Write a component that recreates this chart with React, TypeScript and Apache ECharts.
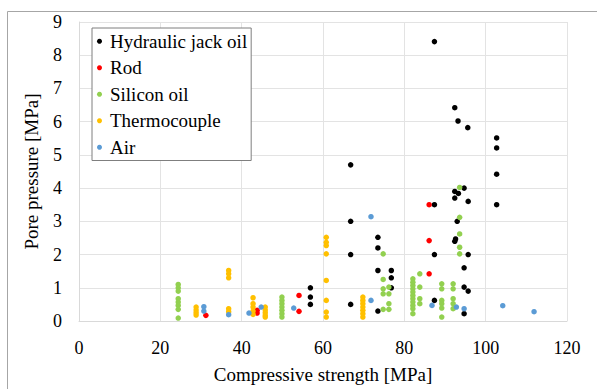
import React, { useEffect, useRef } from "react";
import * as echarts from "echarts";

const xTicks = [0, 20, 40, 60, 80, 100, 120];
const yTicks = [0, 1, 2, 3, 4, 5, 6, 7, 8, 9];

const seriesNames = ["Hydraulic jack oil", "Rod", "Silicon oil", "Thermocouple", "Air"];
const seriesColors = ["#000000", "#FF0000", "#92D050", "#FFC000", "#5B9BD5"];

const hydraulicJackOil: [number, number][] = [
  [56.9, 1.0], [56.9, 0.72], [56.9, 0.5],
  [66.8, 4.7], [66.8, 3.0], [66.8, 2.0], [66.8, 0.5],
  [73.5, 2.52], [73.5, 2.2], [73.5, 1.52], [73.5, 0.3],
  [76.8, 1.52], [76.8, 1.3], [76.8, 1.0],
  [87.4, 8.41], [87.4, 3.5], [87.4, 2.0], [87.4, 0.62],
  [92.4, 6.42], [93.2, 6.02], [95.6, 5.82],
  [102.7, 5.51], [102.7, 5.21], [102.7, 4.42], [102.7, 3.5],
  [94.7, 4.0], [92.4, 3.9], [93.3, 3.84], [92.4, 3.7], [95.7, 3.6],
  [93.0, 3.0], [92.6, 2.47], [92.4, 2.4], [95.7, 2.0], [94.7, 1.6],
  [94.7, 1.02], [95.7, 0.9], [94.7, 0.22],
];

const rod: [number, number][] = [
  [31.2, 0.17], [43.8, 0.32], [43.8, 0.24], [54.1, 0.77], [54.1, 0.29],
  [86.1, 3.5], [86.1, 2.42], [86.1, 1.42],
];

const siliconOil: [number, number][] = [
  [24.4, 1.1], [24.4, 1.0], [24.4, 0.9], [24.4, 0.67], [24.4, 0.57], [24.4, 0.47], [24.4, 0.35], [24.4, 0.09],
  [49.9, 0.72], [49.9, 0.62], [49.9, 0.52], [49.9, 0.42], [49.9, 0.32], [49.9, 0.22], [49.9, 0.12],
  [74.8, 2.02], [74.8, 1.25], [74.8, 0.97], [74.8, 0.82], [74.8, 0.35],
  [76.2, 1.02], [76.2, 0.82], [76.2, 0.52], [76.2, 0.35],
  [82.1, 1.27], [82.1, 1.17], [82.1, 1.07], [82.1, 0.97], [82.1, 0.87], [82.1, 0.77],
  [82.1, 0.67], [82.1, 0.57], [82.1, 0.47], [82.1, 0.37], [82.1, 0.22],
  [83.8, 1.42], [83.8, 1.02], [83.8, 0.67], [83.8, 0.52],
  [89.2, 1.12], [89.2, 0.97], [89.2, 0.62], [89.2, 0.52], [89.2, 0.39], [89.2, 0.12],
  [92.0, 1.12], [92.0, 0.97], [92.0, 0.67], [92.0, 0.52], [92.0, 0.37],
  [93.6, 4.02], [93.6, 3.12], [93.6, 2.62], [93.6, 2.22], [93.6, 2.02],
];

const thermocouple: [number, number][] = [
  [28.8, 0.42], [28.8, 0.33], [28.8, 0.25], [28.8, 0.18],
  [36.8, 1.52], [36.8, 1.42], [36.8, 1.3], [36.8, 0.37], [36.8, 0.28],
  [42.8, 0.7], [42.8, 0.52], [42.8, 0.42], [42.8, 0.3], [42.8, 0.2],
  [45.8, 0.42], [45.8, 0.33], [45.8, 0.25], [45.8, 0.17], [45.8, 0.12],
  [60.8, 2.52], [60.8, 2.37], [60.8, 2.27], [60.8, 2.02], [60.8, 1.22], [60.8, 0.62], [60.8, 0.27], [60.8, 0.12],
  [69.8, 0.72], [69.8, 0.62], [69.8, 0.52], [69.8, 0.42], [69.8, 0.32], [69.8, 0.22], [69.8, 0.12],
];

const air: [number, number][] = [
  [30.7, 0.43], [30.7, 0.3], [36.8, 0.19], [41.8, 0.24], [44.8, 0.42], [52.8, 0.39],
  [71.8, 3.14], [71.8, 0.62], [86.8, 0.47], [92.8, 0.42], [94.7, 0.37], [104.2, 0.46], [111.9, 0.28],
];

const seriesData = [hydraulicJackOil, rod, siliconOil, thermocouple, air];

const FONT = "Liberation Serif";

export default function App() {
  const ref = useRef<HTMLDivElement>(null);
  useEffect(() => {
    if (!ref.current) return;
    const chart = echarts.init(ref.current, undefined, { renderer: "svg" });
    chart.setOption({
      animation: false,
      backgroundColor: "#ffffff",
      textStyle: { fontFamily: FONT },
      graphic: [
        {
          type: "rect",
          shape: { x: 7.5, y: 11.5, width: 700, height: 500 },
          style: { fill: "none", stroke: "#a6a6a6", lineWidth: 1 },
          silent: true,
        },
      ],
      grid: { left: 79, right: 30, top: 22, bottom: 67, containLabel: false },
      legend: {
        orient: "vertical",
        left: 92,
        top: 28,
        data: seriesNames,
        icon: "circle",
        itemWidth: 11,
        itemHeight: 5,
        itemGap: 6,
        padding: [3, 4, 3, 5],
        borderColor: "#7f7f7f",
        borderWidth: 1,
        backgroundColor: "#ffffff",
        textStyle: { fontFamily: FONT, fontSize: 19, color: "#000", lineHeight: 20.5 },
      },
      xAxis: {
        type: "value",
        min: xTicks[0],
        max: xTicks[xTicks.length - 1],
        interval: 20,
        name: "Compressive strength [MPa]",
        nameLocation: "middle",
        nameGap: 44,
        nameTextStyle: { fontFamily: FONT, fontSize: 19, color: "#000" },
        axisLine: { show: true, lineStyle: { color: "#d9d9d9", width: 1 } },
        axisTick: { show: false },
        axisLabel: { fontFamily: FONT, fontSize: 18, color: "#000", margin: 18 },
        splitLine: { show: true, lineStyle: { color: "#e3e3e3", width: 1 } },
      },
      yAxis: {
        type: "value",
        min: yTicks[0],
        max: yTicks[yTicks.length - 1],
        interval: 1,
        name: "Pore pressure [MPa]",
        nameLocation: "middle",
        nameGap: 38,
        nameTextStyle: { fontFamily: FONT, fontSize: 19, color: "#000" },
        axisLine: { show: true, lineStyle: { color: "#d9d9d9", width: 1 } },
        axisTick: { show: false },
        axisLabel: { fontFamily: FONT, fontSize: 18, color: "#000", margin: 17 },
        splitLine: { show: true, lineStyle: { color: "#e3e3e3", width: 1 } },
      },
      series: seriesNames.map((name, i) => ({
        name,
        type: "scatter",
        data: seriesData[i],
        symbol: "circle",
        symbolSize: 5.5,
        itemStyle: { color: seriesColors[i], opacity: 1 },
        z: 2 + i,
      })),
    });
    return () => chart.dispose();
  }, []);
  return (
    <div
      ref={ref}
      style={{ position: "absolute", left: 0, top: 0, width: 597, height: 389 }}
    />
  );
}
